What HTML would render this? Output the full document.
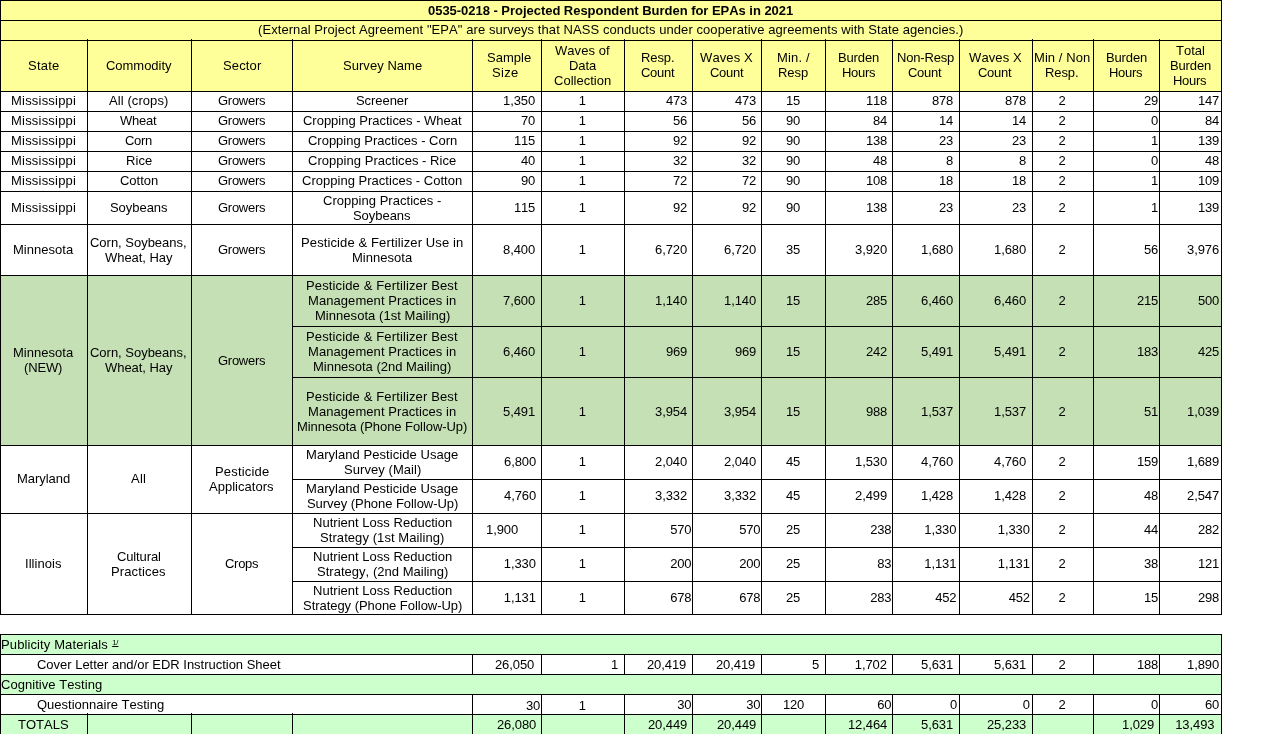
<!DOCTYPE html>
<html lang="en">
<head>
<meta charset="utf-8">
<title>0535-0218 - Projected Respondent Burden for EPAs in 2021</title>
<style>
html,body{margin:0;padding:0;background:#fff}
body{width:1280px;height:734px;overflow:hidden;font-family:"Liberation Sans",sans-serif;font-size:13px;line-height:15px;color:#000;font-kerning:none}
main{position:relative;display:block;width:1280px;height:734px;overflow:hidden;overflow:clip}
table{border-collapse:collapse;table-layout:fixed;width:1221px;position:absolute;left:0;top:0}
td{border:1px solid #000;padding:0;vertical-align:top;text-align:left;white-space:nowrap}
td>div{height:15px;white-space:pre}
td.b{font-weight:bold}
td.tk{position:relative}
td.tk::before{content:"";position:absolute;left:-1px;top:-2px;width:1px;height:1px;background:#000}
tr.y td{background:#ffff99}
tr.g td{background:#c5e0b4}
tr.l td{background:#ccffcc}
tr.gap td{border-left:none;border-right:none;background:#fff}
sup{font-size:7.5px;line-height:0;vertical-align:4px;text-decoration:underline;letter-spacing:0;margin-left:.5px}
</style>
</head>
<body>
<main>
<table>
<colgroup><col style="width:87px"><col style="width:104px"><col style="width:101px"><col style="width:180px"><col style="width:69px"><col style="width:83px"><col style="width:68px"><col style="width:69px"><col style="width:64px"><col style="width:67px"><col style="width:67px"><col style="width:73px"><col style="width:61px"><col style="width:66px"><col style="width:62px"></colgroup>
<tbody>
<tr class="y" style="height:20px"><td colspan="15" class="b"><div style="margin-left:427px;margin-top:2px;letter-spacing:-0.032px">0535-0218 - Projected Respondent Burden for EPAs in 2021</div></td></tr>
<tr class="y" style="height:20px"><td colspan="15"><div style="margin-left:257px;margin-top:1px;letter-spacing:0.072px">(External Project Agreement "EPA" are surveys that NASS conducts under cooperative agreements with State agencies.)</div></td></tr>
<tr class="y" style="height:51px"><td><div style="margin-left:27px;margin-top:17px;letter-spacing:0.219px">State</div></td><td class="tk"><div style="margin-left:18px;margin-top:17px;letter-spacing:-0.030px">Commodity</div></td><td class="tk"><div style="margin-left:31px;margin-top:17px;letter-spacing:0.151px">Sector</div></td><td class="tk"><div style="margin-left:50px;margin-top:17px;letter-spacing:0.048px">Survey Name</div></td><td class="tk"><div style="margin-left:14px;margin-top:9px;letter-spacing:0.030px">Sample</div><div style="margin-left:19px;letter-spacing:0.314px">Size</div></td><td class="tk"><div style="margin-left:13px;margin-top:2px;letter-spacing:0.061px">Waves of</div><div style="margin-left:27px;letter-spacing:-0.077px">Data</div><div style="margin-left:12px;letter-spacing:0.016px">Collection</div></td><td class="tk"><div style="margin-left:16px;margin-top:9px;letter-spacing:-0.087px">Resp.</div><div style="margin-left:16px;letter-spacing:-0.270px">Count</div></td><td class="tk"><div style="margin-left:7px;margin-top:9px;letter-spacing:0.110px">Waves X</div><div style="margin-left:17px;letter-spacing:-0.270px">Count</div></td><td class="tk"><div style="margin-left:15px;margin-top:9px;letter-spacing:0.166px">Min. /</div><div style="margin-left:16px;letter-spacing:-0.039px">Resp</div></td><td class="tk"><div style="margin-left:12px;margin-top:9px;letter-spacing:-0.138px">Burden</div><div style="margin-left:16px;letter-spacing:-0.294px">Hours</div></td><td class="tk"><div style="margin-left:4px;margin-top:9px;letter-spacing:-0.185px">Non-Resp</div><div style="margin-left:15px;letter-spacing:-0.270px">Count</div></td><td class="tk"><div style="margin-left:9px;margin-top:9px;letter-spacing:0.110px">Waves X</div><div style="margin-left:18px;letter-spacing:-0.270px">Count</div></td><td class="tk"><div style="margin-left:1px;margin-top:9px;letter-spacing:0.075px">Min / Non</div><div style="margin-left:12px;letter-spacing:-0.087px">Resp.</div></td><td class="tk"><div style="margin-left:12px;margin-top:9px;letter-spacing:-0.138px">Burden</div><div style="margin-left:15px;letter-spacing:-0.294px">Hours</div></td><td class="tk"><div style="margin-left:16px;margin-top:2px">Total</div><div style="margin-left:10px;letter-spacing:-0.138px">Burden</div><div style="margin-left:13px;letter-spacing:-0.294px">Hours</div></td></tr>
<tr style="height:20px"><td><div style="margin-left:10px;margin-top:1px;letter-spacing:0.205px">Mississippi</div></td><td><div style="margin-left:21px;margin-top:1px;letter-spacing:0.082px">All (crops)</div></td><td><div style="margin-left:26px;margin-top:1px;letter-spacing:-0.270px">Growers</div></td><td><div style="margin-left:63px;margin-top:1px;letter-spacing:-0.060px">Screener</div></td><td><div style="margin-left:30px;margin-top:1px;letter-spacing:-0.075px">1,350</div></td><td><div style="margin-left:36.75px;margin-top:1px">1</div></td><td><div style="margin-left:41px;margin-top:1px;letter-spacing:-0.230px">473</div></td><td><div style="margin-left:42px;margin-top:1px;letter-spacing:-0.230px">473</div></td><td><div style="margin-left:24px;margin-top:1px;letter-spacing:-0.230px">15</div></td><td><div style="margin-left:40px;margin-top:1px;letter-spacing:-0.230px">118</div></td><td><div style="margin-left:39px;margin-top:1px;letter-spacing:-0.230px">878</div></td><td><div style="margin-left:45px;margin-top:1px;letter-spacing:-0.230px">878</div></td><td><div style="margin-left:25.50px;margin-top:1px">2</div></td><td><div style="margin-left:50px;margin-top:1px;letter-spacing:-0.230px">29</div></td><td><div style="margin-left:38px;margin-top:1px;letter-spacing:-0.230px">147</div></td></tr>
<tr style="height:20px"><td><div style="margin-left:10px;margin-top:1px;letter-spacing:0.205px">Mississippi</div></td><td><div style="margin-left:32px;margin-top:1px;letter-spacing:-0.240px">Wheat</div></td><td><div style="margin-left:26px;margin-top:1px;letter-spacing:-0.270px">Growers</div></td><td><div style="margin-left:10px;margin-top:1px;letter-spacing:-0.014px">Cropping Practices - Wheat</div></td><td><div style="margin-left:48px;margin-top:1px;letter-spacing:-0.230px">70</div></td><td><div style="margin-left:36.75px;margin-top:1px">1</div></td><td><div style="margin-left:48px;margin-top:1px;letter-spacing:-0.230px">56</div></td><td><div style="margin-left:49px;margin-top:1px;letter-spacing:-0.230px">56</div></td><td><div style="margin-left:24px;margin-top:1px;letter-spacing:-0.230px">90</div></td><td><div style="margin-left:47px;margin-top:1px;letter-spacing:-0.230px">84</div></td><td><div style="margin-left:46px;margin-top:1px;letter-spacing:-0.230px">14</div></td><td><div style="margin-left:52px;margin-top:1px;letter-spacing:-0.230px">14</div></td><td><div style="margin-left:25.50px;margin-top:1px">2</div></td><td><div style="margin-left:57px;margin-top:1px">0</div></td><td><div style="margin-left:45px;margin-top:1px;letter-spacing:-0.230px">84</div></td></tr>
<tr style="height:20px"><td><div style="margin-left:10px;margin-top:1px;letter-spacing:0.205px">Mississippi</div></td><td><div style="margin-left:37px;margin-top:1px;letter-spacing:-0.316px">Corn</div></td><td><div style="margin-left:26px;margin-top:1px;letter-spacing:-0.270px">Growers</div></td><td><div style="margin-left:15px;margin-top:1px;letter-spacing:-0.014px">Cropping Practices - Corn</div></td><td><div style="margin-left:41px;margin-top:1px;letter-spacing:-0.230px">115</div></td><td><div style="margin-left:36.75px;margin-top:1px">1</div></td><td><div style="margin-left:48px;margin-top:1px;letter-spacing:-0.230px">92</div></td><td><div style="margin-left:49px;margin-top:1px;letter-spacing:-0.230px">92</div></td><td><div style="margin-left:24px;margin-top:1px;letter-spacing:-0.230px">90</div></td><td><div style="margin-left:40px;margin-top:1px;letter-spacing:-0.230px">138</div></td><td><div style="margin-left:46px;margin-top:1px;letter-spacing:-0.230px">23</div></td><td><div style="margin-left:52px;margin-top:1px;letter-spacing:-0.230px">23</div></td><td><div style="margin-left:25.50px;margin-top:1px">2</div></td><td><div style="margin-left:57px;margin-top:1px">1</div></td><td><div style="margin-left:38px;margin-top:1px;letter-spacing:-0.230px">139</div></td></tr>
<tr style="height:20px"><td><div style="margin-left:10px;margin-top:1px;letter-spacing:0.205px">Mississippi</div></td><td><div style="margin-left:38px;margin-top:1px;letter-spacing:0.075px">Rice</div></td><td><div style="margin-left:26px;margin-top:1px;letter-spacing:-0.270px">Growers</div></td><td><div style="margin-left:15px;margin-top:1px;letter-spacing:0.035px">Cropping Practices - Rice</div></td><td><div style="margin-left:48px;margin-top:1px;letter-spacing:-0.230px">40</div></td><td><div style="margin-left:36.75px;margin-top:1px">1</div></td><td><div style="margin-left:48px;margin-top:1px;letter-spacing:-0.230px">32</div></td><td><div style="margin-left:49px;margin-top:1px;letter-spacing:-0.230px">32</div></td><td><div style="margin-left:24px;margin-top:1px;letter-spacing:-0.230px">90</div></td><td><div style="margin-left:47px;margin-top:1px;letter-spacing:-0.230px">48</div></td><td><div style="margin-left:53px;margin-top:1px">8</div></td><td><div style="margin-left:59px;margin-top:1px">8</div></td><td><div style="margin-left:25.50px;margin-top:1px">2</div></td><td><div style="margin-left:57px;margin-top:1px">0</div></td><td><div style="margin-left:45px;margin-top:1px;letter-spacing:-0.230px">48</div></td></tr>
<tr style="height:20px"><td><div style="margin-left:10px;margin-top:1px;letter-spacing:0.205px">Mississippi</div></td><td><div style="margin-left:32px;margin-top:1px;letter-spacing:-0.014px">Cotton</div></td><td><div style="margin-left:26px;margin-top:1px;letter-spacing:-0.270px">Growers</div></td><td><div style="margin-left:9px;margin-top:1px;letter-spacing:0.021px">Cropping Practices - Cotton</div></td><td><div style="margin-left:48px;margin-top:1px;letter-spacing:-0.230px">90</div></td><td><div style="margin-left:36.75px;margin-top:1px">1</div></td><td><div style="margin-left:48px;margin-top:1px;letter-spacing:-0.230px">72</div></td><td><div style="margin-left:49px;margin-top:1px;letter-spacing:-0.230px">72</div></td><td><div style="margin-left:24px;margin-top:1px;letter-spacing:-0.230px">90</div></td><td><div style="margin-left:40px;margin-top:1px;letter-spacing:-0.230px">108</div></td><td><div style="margin-left:46px;margin-top:1px;letter-spacing:-0.230px">18</div></td><td><div style="margin-left:52px;margin-top:1px;letter-spacing:-0.230px">18</div></td><td><div style="margin-left:25.50px;margin-top:1px">2</div></td><td><div style="margin-left:57px;margin-top:1px">1</div></td><td><div style="margin-left:38px;margin-top:1px;letter-spacing:-0.230px">109</div></td></tr>
<tr style="height:33px"><td><div style="margin-left:10px;margin-top:8px;letter-spacing:0.205px">Mississippi</div></td><td><div style="margin-left:22px;margin-top:8px;letter-spacing:-0.046px">Soybeans</div></td><td><div style="margin-left:26px;margin-top:8px;letter-spacing:-0.270px">Growers</div></td><td><div style="margin-left:30px;margin-top:1px;letter-spacing:0.030px">Cropping Practices -</div><div style="margin-left:60px;letter-spacing:-0.046px">Soybeans</div></td><td><div style="margin-left:41px;margin-top:8px;letter-spacing:-0.230px">115</div></td><td><div style="margin-left:36.75px;margin-top:8px">1</div></td><td><div style="margin-left:48px;margin-top:8px;letter-spacing:-0.230px">92</div></td><td><div style="margin-left:49px;margin-top:8px;letter-spacing:-0.230px">92</div></td><td><div style="margin-left:24px;margin-top:8px;letter-spacing:-0.230px">90</div></td><td><div style="margin-left:40px;margin-top:8px;letter-spacing:-0.230px">138</div></td><td><div style="margin-left:46px;margin-top:8px;letter-spacing:-0.230px">23</div></td><td><div style="margin-left:52px;margin-top:8px;letter-spacing:-0.230px">23</div></td><td><div style="margin-left:25.50px;margin-top:8px">2</div></td><td><div style="margin-left:57px;margin-top:8px">1</div></td><td><div style="margin-left:38px;margin-top:8px;letter-spacing:-0.230px">139</div></td></tr>
<tr style="height:51px"><td><div style="margin-left:12px;margin-top:17px;letter-spacing:0.031px">Minnesota</div></td><td><div style="margin-left:2px;margin-top:10px;letter-spacing:-0.016px">Corn, Soybeans,</div><div style="margin-left:17px;letter-spacing:-0.046px">Wheat, Hay</div></td><td><div style="margin-left:26px;margin-top:17px;letter-spacing:-0.270px">Growers</div></td><td><div style="margin-left:8px;margin-top:10px;letter-spacing:0.118px">Pesticide &amp; Fertilizer Use in</div><div style="margin-left:59px;letter-spacing:0.031px">Minnesota</div></td><td><div style="margin-left:30px;margin-top:17px;letter-spacing:-0.075px">8,400</div></td><td><div style="margin-left:36.75px;margin-top:17px">1</div></td><td><div style="margin-left:30px;margin-top:17px;letter-spacing:-0.075px">6,720</div></td><td><div style="margin-left:31px;margin-top:17px;letter-spacing:-0.075px">6,720</div></td><td><div style="margin-left:24px;margin-top:17px;letter-spacing:-0.230px">35</div></td><td><div style="margin-left:29px;margin-top:17px;letter-spacing:-0.075px">3,920</div></td><td><div style="margin-left:28px;margin-top:17px;letter-spacing:-0.075px">1,680</div></td><td><div style="margin-left:34px;margin-top:17px;letter-spacing:-0.075px">1,680</div></td><td><div style="margin-left:25.50px;margin-top:17px">2</div></td><td><div style="margin-left:50px;margin-top:17px;letter-spacing:-0.230px">56</div></td><td><div style="margin-left:27px;margin-top:17px;letter-spacing:-0.075px">3,976</div></td></tr>
<tr class="g" style="height:51px"><td rowspan="3"><div style="margin-left:12px;margin-top:69px;letter-spacing:0.031px">Minnesota</div><div style="margin-left:23px;letter-spacing:-0.165px">(NEW)</div></td><td rowspan="3"><div style="margin-left:2px;margin-top:69px;letter-spacing:-0.016px">Corn, Soybeans,</div><div style="margin-left:17px;letter-spacing:-0.046px">Wheat, Hay</div></td><td rowspan="3"><div style="margin-left:26px;margin-top:77px;letter-spacing:-0.270px">Growers</div></td><td><div style="margin-left:13px;margin-top:2px;letter-spacing:0.135px">Pesticide &amp; Fertilizer Best</div><div style="margin-left:15px;letter-spacing:0.070px">Management Practices in</div><div style="margin-left:22px;letter-spacing:0.043px">Minnesota (1st Mailing)</div></td><td><div style="margin-left:30px;margin-top:17px;letter-spacing:-0.075px">7,600</div></td><td><div style="margin-left:36.75px;margin-top:17px">1</div></td><td><div style="margin-left:30px;margin-top:17px;letter-spacing:-0.075px">1,140</div></td><td><div style="margin-left:31px;margin-top:17px;letter-spacing:-0.075px">1,140</div></td><td><div style="margin-left:24px;margin-top:17px;letter-spacing:-0.230px">15</div></td><td><div style="margin-left:40px;margin-top:17px;letter-spacing:-0.230px">285</div></td><td><div style="margin-left:28px;margin-top:17px;letter-spacing:-0.075px">6,460</div></td><td><div style="margin-left:34px;margin-top:17px;letter-spacing:-0.075px">6,460</div></td><td><div style="margin-left:25.50px;margin-top:17px">2</div></td><td><div style="margin-left:43px;margin-top:17px;letter-spacing:-0.230px">215</div></td><td><div style="margin-left:38px;margin-top:17px;letter-spacing:-0.230px">500</div></td></tr>
<tr class="g" style="height:51px"><td><div style="margin-left:13px;margin-top:2px;letter-spacing:0.135px">Pesticide &amp; Fertilizer Best</div><div style="margin-left:15px;letter-spacing:0.070px">Management Practices in</div><div style="margin-left:20px;letter-spacing:-0.018px">Minnesota (2nd Mailing)</div></td><td><div style="margin-left:30px;margin-top:17px;letter-spacing:-0.075px">6,460</div></td><td><div style="margin-left:36.75px;margin-top:17px">1</div></td><td><div style="margin-left:41px;margin-top:17px;letter-spacing:-0.230px">969</div></td><td><div style="margin-left:42px;margin-top:17px;letter-spacing:-0.230px">969</div></td><td><div style="margin-left:24px;margin-top:17px;letter-spacing:-0.230px">15</div></td><td><div style="margin-left:40px;margin-top:17px;letter-spacing:-0.230px">242</div></td><td><div style="margin-left:28px;margin-top:17px;letter-spacing:-0.075px">5,491</div></td><td><div style="margin-left:34px;margin-top:17px;letter-spacing:-0.075px">5,491</div></td><td><div style="margin-left:25.50px;margin-top:17px">2</div></td><td><div style="margin-left:43px;margin-top:17px;letter-spacing:-0.230px">183</div></td><td><div style="margin-left:38px;margin-top:17px;letter-spacing:-0.230px">425</div></td></tr>
<tr class="g" style="height:68px"><td><div style="margin-left:13px;margin-top:11px;letter-spacing:0.135px">Pesticide &amp; Fertilizer Best</div><div style="margin-left:15px;letter-spacing:0.070px">Management Practices in</div><div style="margin-left:4px;letter-spacing:-0.063px">Minnesota (Phone Follow-Up)</div></td><td><div style="margin-left:30px;margin-top:26px;letter-spacing:-0.075px">5,491</div></td><td><div style="margin-left:36.75px;margin-top:26px">1</div></td><td><div style="margin-left:30px;margin-top:26px;letter-spacing:-0.075px">3,954</div></td><td><div style="margin-left:31px;margin-top:26px;letter-spacing:-0.075px">3,954</div></td><td><div style="margin-left:24px;margin-top:26px;letter-spacing:-0.230px">15</div></td><td><div style="margin-left:40px;margin-top:26px;letter-spacing:-0.230px">988</div></td><td><div style="margin-left:28px;margin-top:26px;letter-spacing:-0.075px">1,537</div></td><td><div style="margin-left:34px;margin-top:26px;letter-spacing:-0.075px">1,537</div></td><td><div style="margin-left:25.50px;margin-top:26px">2</div></td><td><div style="margin-left:50px;margin-top:26px;letter-spacing:-0.230px">51</div></td><td><div style="margin-left:27px;margin-top:26px;letter-spacing:-0.075px">1,039</div></td></tr>
<tr style="height:34px"><td rowspan="2"><div style="margin-left:16px;margin-top:25px;letter-spacing:-0.034px">Maryland</div></td><td rowspan="2"><div style="margin-left:43px;margin-top:25px;letter-spacing:0.220px">All</div></td><td rowspan="2"><div style="margin-left:23px;margin-top:18px;letter-spacing:0.185px">Pesticide</div><div style="margin-left:17px;letter-spacing:0.019px">Applicators</div></td><td><div style="margin-left:13px;margin-top:1px;letter-spacing:0.053px">Maryland Pesticide Usage</div><div style="margin-left:51px;letter-spacing:0.064px">Survey (Mail)</div></td><td><div style="margin-left:31px;margin-top:8px;letter-spacing:-0.075px">6,800</div></td><td><div style="margin-left:36.75px;margin-top:8px">1</div></td><td><div style="margin-left:30px;margin-top:8px;letter-spacing:-0.075px">2,040</div></td><td><div style="margin-left:31px;margin-top:8px;letter-spacing:-0.075px">2,040</div></td><td><div style="margin-left:24px;margin-top:8px;letter-spacing:-0.230px">45</div></td><td><div style="margin-left:29px;margin-top:8px;letter-spacing:-0.075px">1,530</div></td><td><div style="margin-left:28px;margin-top:8px;letter-spacing:-0.075px">4,760</div></td><td><div style="margin-left:34px;margin-top:8px;letter-spacing:-0.075px">4,760</div></td><td><div style="margin-left:25.50px;margin-top:8px">2</div></td><td><div style="margin-left:43px;margin-top:8px;letter-spacing:-0.230px">159</div></td><td><div style="margin-left:27px;margin-top:8px;letter-spacing:-0.075px">1,689</div></td></tr>
<tr style="height:34px"><td><div style="margin-left:13px;margin-top:1px;letter-spacing:0.053px">Maryland Pesticide Usage</div><div style="margin-left:14px;letter-spacing:-0.049px">Survey (Phone Follow-Up)</div></td><td><div style="margin-left:31px;margin-top:8px;letter-spacing:-0.075px">4,760</div></td><td><div style="margin-left:36.75px;margin-top:8px">1</div></td><td><div style="margin-left:30px;margin-top:8px;letter-spacing:-0.075px">3,332</div></td><td><div style="margin-left:31px;margin-top:8px;letter-spacing:-0.075px">3,332</div></td><td><div style="margin-left:24px;margin-top:8px;letter-spacing:-0.230px">45</div></td><td><div style="margin-left:29px;margin-top:8px;letter-spacing:-0.075px">2,499</div></td><td><div style="margin-left:28px;margin-top:8px;letter-spacing:-0.075px">1,428</div></td><td><div style="margin-left:34px;margin-top:8px;letter-spacing:-0.075px">1,428</div></td><td><div style="margin-left:25.50px;margin-top:8px">2</div></td><td><div style="margin-left:50px;margin-top:8px;letter-spacing:-0.230px">48</div></td><td><div style="margin-left:27px;margin-top:8px;letter-spacing:-0.075px">2,547</div></td></tr>
<tr style="height:34px"><td rowspan="3"><div style="margin-left:24px;margin-top:42px;letter-spacing:0.054px">Illinois</div></td><td rowspan="3"><div style="margin-left:29px;margin-top:35px;letter-spacing:-0.130px">Cultural</div><div style="margin-left:23px;letter-spacing:0.130px">Practices</div></td><td rowspan="3"><div style="margin-left:33px;margin-top:42px;letter-spacing:-0.294px">Crops</div></td><td><div style="margin-left:20px;margin-top:1px;letter-spacing:0.022px">Nutrient Loss Reduction</div><div style="margin-left:27px;letter-spacing:0.072px">Strategy (1st Mailing)</div></td><td><div style="margin-left:13px;margin-top:8px;letter-spacing:-0.075px">1,900</div></td><td><div style="margin-left:36.75px;margin-top:8px">1</div></td><td><div style="margin-left:45.25px;margin-top:8px;letter-spacing:-0.230px">570</div></td><td><div style="margin-left:46.25px;margin-top:8px;letter-spacing:-0.230px">570</div></td><td><div style="margin-left:24px;margin-top:8px;letter-spacing:-0.230px">25</div></td><td><div style="margin-left:44.25px;margin-top:8px;letter-spacing:-0.230px">238</div></td><td><div style="margin-left:31.25px;margin-top:8px;letter-spacing:-0.075px">1,330</div></td><td><div style="margin-left:37.75px;margin-top:8px;letter-spacing:-0.075px">1,330</div></td><td><div style="margin-left:25.50px;margin-top:8px">2</div></td><td><div style="margin-left:50px;margin-top:8px;letter-spacing:-0.230px">44</div></td><td><div style="margin-left:38px;margin-top:8px;letter-spacing:-0.230px">282</div></td></tr>
<tr style="height:34px"><td><div style="margin-left:20px;margin-top:1px;letter-spacing:0.022px">Nutrient Loss Reduction</div><div style="margin-left:24px;letter-spacing:0.025px">Strategy, (2nd Mailing)</div></td><td><div style="margin-left:30.75px;margin-top:8px;letter-spacing:-0.075px">1,330</div></td><td><div style="margin-left:36.75px;margin-top:8px">1</div></td><td><div style="margin-left:45.25px;margin-top:8px;letter-spacing:-0.230px">200</div></td><td><div style="margin-left:46.25px;margin-top:8px;letter-spacing:-0.230px">200</div></td><td><div style="margin-left:24px;margin-top:8px;letter-spacing:-0.230px">25</div></td><td><div style="margin-left:51.25px;margin-top:8px;letter-spacing:-0.230px">83</div></td><td><div style="margin-left:31.25px;margin-top:8px;letter-spacing:-0.075px">1,131</div></td><td><div style="margin-left:37.75px;margin-top:8px;letter-spacing:-0.075px">1,131</div></td><td><div style="margin-left:25.50px;margin-top:8px">2</div></td><td><div style="margin-left:50px;margin-top:8px;letter-spacing:-0.230px">38</div></td><td><div style="margin-left:38px;margin-top:8px;letter-spacing:-0.230px">121</div></td></tr>
<tr style="height:33px"><td><div style="margin-left:20px;margin-top:1px;letter-spacing:0.022px">Nutrient Loss Reduction</div><div style="margin-left:10px;letter-spacing:-0.043px">Strategy (Phone Follow-Up)</div></td><td><div style="margin-left:30.75px;margin-top:8px;letter-spacing:-0.075px">1,131</div></td><td><div style="margin-left:36.75px;margin-top:8px">1</div></td><td><div style="margin-left:45.25px;margin-top:8px;letter-spacing:-0.230px">678</div></td><td><div style="margin-left:46.25px;margin-top:8px;letter-spacing:-0.230px">678</div></td><td><div style="margin-left:24px;margin-top:8px;letter-spacing:-0.230px">25</div></td><td><div style="margin-left:44.25px;margin-top:8px;letter-spacing:-0.230px">283</div></td><td><div style="margin-left:42.25px;margin-top:8px;letter-spacing:-0.230px">452</div></td><td><div style="margin-left:48.75px;margin-top:8px;letter-spacing:-0.230px">452</div></td><td><div style="margin-left:25.50px;margin-top:8px">2</div></td><td><div style="margin-left:50px;margin-top:8px;letter-spacing:-0.230px">15</div></td><td><div style="margin-left:38px;margin-top:8px;letter-spacing:-0.230px">298</div></td></tr>
<tr class="gap" style="height:20px"><td colspan="15"></td></tr>
<tr class="l" style="height:20px"><td colspan="15"><div style="margin-left:0px;margin-top:2px;letter-spacing:0.114px">Publicity Materials <sup>1/</sup></div></td></tr>
<tr style="height:20px"><td colspan="4"><div style="margin-left:36px;margin-top:2px;letter-spacing:-0.016px">Cover Letter and/or EDR Instruction Sheet</div></td><td><div style="margin-left:22px;margin-top:2px;letter-spacing:-0.106px">26,050</div></td><td><div style="margin-left:69px;margin-top:2px">1</div></td><td><div style="margin-left:22px;margin-top:2px;letter-spacing:-0.106px">20,419</div></td><td><div style="margin-left:23px;margin-top:2px;letter-spacing:-0.106px">20,419</div></td><td><div style="margin-left:50px;margin-top:2px">5</div></td><td><div style="margin-left:28.75px;margin-top:2px;letter-spacing:-0.075px">1,702</div></td><td><div style="margin-left:28px;margin-top:2px;letter-spacing:-0.075px">5,631</div></td><td><div style="margin-left:34px;margin-top:2px;letter-spacing:-0.075px">5,631</div></td><td><div style="margin-left:25.50px;margin-top:2px">2</div></td><td><div style="margin-left:43px;margin-top:2px;letter-spacing:-0.230px">188</div></td><td><div style="margin-left:27px;margin-top:2px;letter-spacing:-0.075px">1,890</div></td></tr>
<tr class="l" style="height:20px"><td colspan="15"><div style="margin-left:0px;margin-top:2px;letter-spacing:0.049px">Cognitive Testing</div></td></tr>
<tr style="height:20px"><td colspan="4"><div style="margin-left:36px;margin-top:2px">Questionnaire Testing</div></td><td><div style="margin-left:53px;margin-top:3px;letter-spacing:-0.230px">30</div></td><td><div style="margin-left:36.75px;margin-top:3px">1</div></td><td><div style="margin-left:52.25px;margin-top:2px;letter-spacing:-0.230px">30</div></td><td><div style="margin-left:53.25px;margin-top:2px;letter-spacing:-0.230px">30</div></td><td><div style="margin-left:21px;margin-top:2px;letter-spacing:-0.230px">120</div></td><td><div style="margin-left:51.25px;margin-top:2px;letter-spacing:-0.230px">60</div></td><td><div style="margin-left:57px;margin-top:2px">0</div></td><td><div style="margin-left:62.75px;margin-top:2px">0</div></td><td><div style="margin-left:25.50px;margin-top:2px">2</div></td><td><div style="margin-left:57px;margin-top:2px">0</div></td><td><div style="margin-left:45px;margin-top:2px;letter-spacing:-0.230px">60</div></td></tr>
<tr class="l" style="height:21px"><td><div style="margin-left:17px;margin-top:2px;letter-spacing:0.021px">TOTALS</div></td><td class="tk"></td><td class="tk"></td><td class="tk"></td><td><div style="margin-left:24px;margin-top:2px;letter-spacing:-0.106px">26,080</div></td><td></td><td><div style="margin-left:23px;margin-top:2px;letter-spacing:-0.106px">20,449</div></td><td><div style="margin-left:24px;margin-top:2px;letter-spacing:-0.106px">20,449</div></td><td></td><td><div style="margin-left:22px;margin-top:2px;letter-spacing:-0.106px">12,464</div></td><td><div style="margin-left:28px;margin-top:2px;letter-spacing:-0.075px">5,631</div></td><td><div style="margin-left:27px;margin-top:2px;letter-spacing:-0.106px">25,233</div></td><td></td><td><div style="margin-left:28px;margin-top:2px;letter-spacing:-0.075px">1,029</div></td><td><div style="margin-left:15.25px;margin-top:2px;letter-spacing:-0.106px">13,493</div></td></tr>
</tbody>
</table>
</main>
</body>
</html>
